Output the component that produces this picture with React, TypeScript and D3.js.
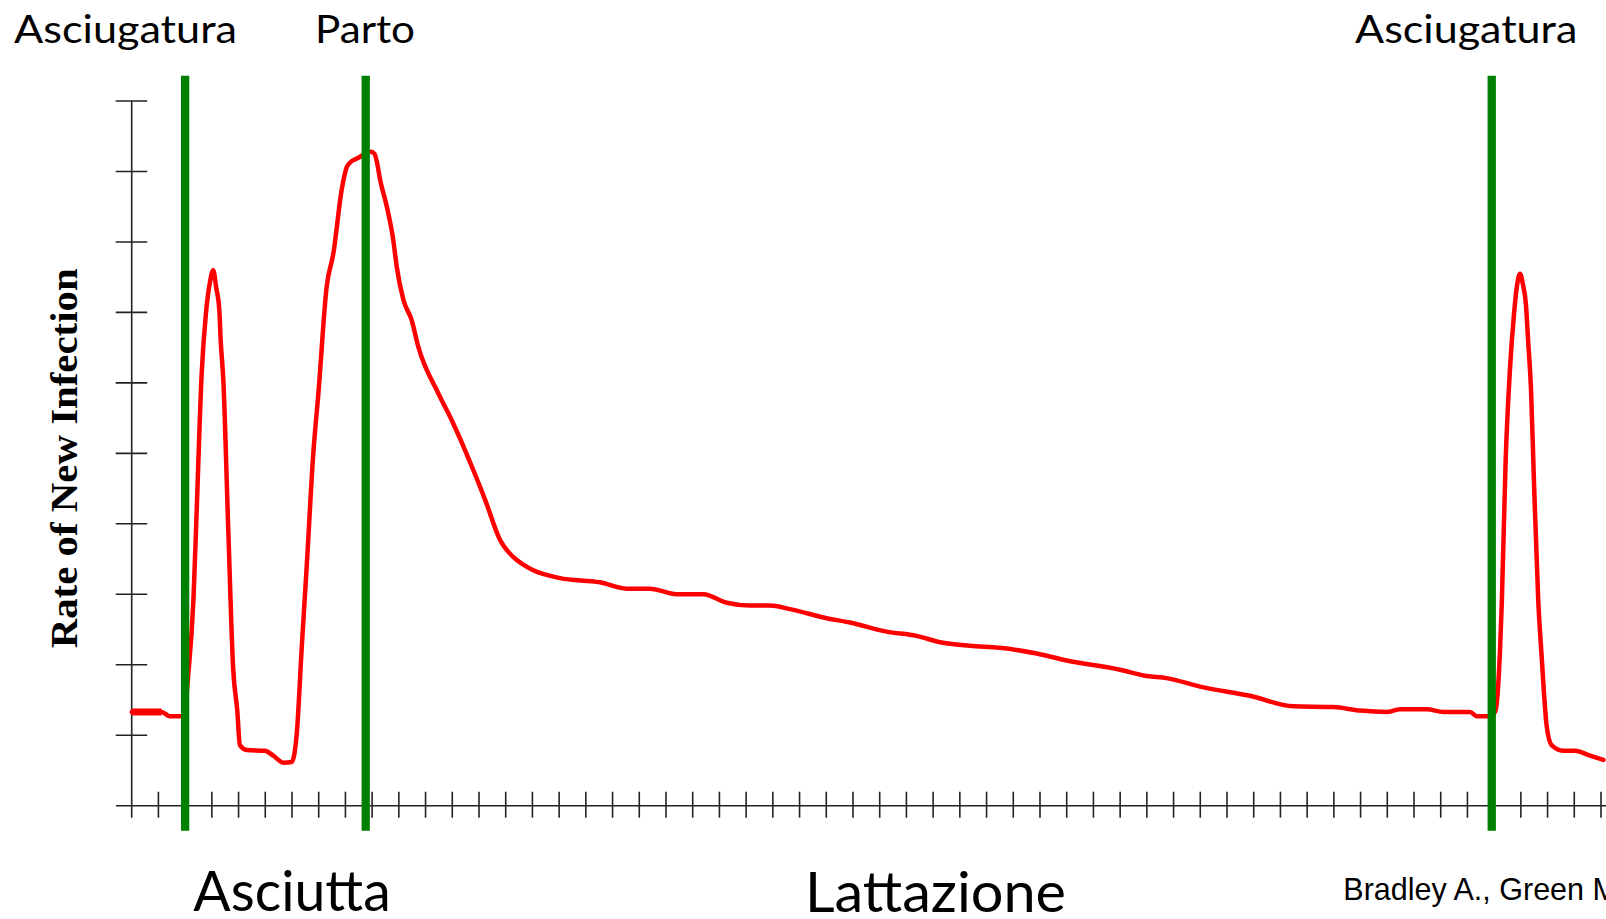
import React from "react";
import * as d3 from "d3";

// Weeks relative to the dry-off cycle (tick units along the x axis)
const weeks: number[] = [
  0, 1.12, 1.43, 1.85, 1.96, 2.11, 2.31, 2.42, 2.62, 2.78, 2.93, 3.05, 3.16, 3.28, 3.33, 3.43,
  3.61, 3.8, 3.95, 4.05, 4.31, 4.99, 5.3, 5.68, 5.99, 6.18, 6.36, 6.55, 6.8, 6.99, 7.3, 7.55,
  7.86, 8.05, 8.25, 8.47, 8.73, 8.96, 9.09, 9.18, 9.3, 9.55, 9.79, 9.92, 10.17, 10.48, 10.73,
  11.48, 11.98, 12.79, 13.23, 13.79, 14.28, 14.66, 15.03, 16.03, 17.53, 18.53, 19.4, 20.4,
  21.4, 22.27, 23.15, 23.89, 24.64, 26.02, 26.89, 28.26, 29.38, 30.26, 31.38, 32.5, 33.88,
  35.0, 36.99, 37.99, 38.74, 39.99, 41.86, 43.48, 44.98, 45.98, 46.98, 47.48, 48.48, 49.1,
  50.1, 50.35, 50.85, 51.03, 51.11, 51.22, 51.29, 51.43, 51.59, 51.74, 51.86, 51.97, 52.08,
  52.19, 52.27, 52.38, 52.49, 52.65, 52.78, 52.97, 53.15, 53.59, 54.03, 54.59, 55.09,
];

// Rate of new infection (y tick units)
const rates: number[] = [
  1.33, 1.33, 1.27, 1.27, 1.29, 1.83, 2.92, 4.05, 6.14, 6.99, 7.43, 7.6, 7.36, 7.03, 6.61, 6.04,
  3.98, 1.93, 1.36, 0.86, 0.79, 0.78, 0.71, 0.61, 0.62, 1.03, 2.21, 3.39, 5.01, 5.86, 7.37, 7.84,
  8.74, 9.06, 9.15, 9.19, 9.25, 9.28, 9.25, 9.13, 8.88, 8.5, 8.03, 7.65, 7.18, 6.89, 6.51,
  5.85, 5.47, 4.76, 4.34, 3.77, 3.53, 3.42, 3.34, 3.23, 3.17, 3.08, 3.08, 3.0,
  3.0, 2.88, 2.84, 2.84, 2.79, 2.66, 2.6, 2.47, 2.41, 2.32, 2.27, 2.24, 2.16,
  2.06, 1.93, 1.84, 1.81, 1.69, 1.56, 1.41, 1.4, 1.35, 1.33, 1.37, 1.37, 1.33,
  1.33, 1.27, 1.27, 1.33, 1.5, 2.21, 2.92, 4.89, 6.18, 6.96, 7.39, 7.55, 7.39,
  7.11, 6.61, 5.91, 4.61, 2.92, 2.11, 1.12, 0.86, 0.78, 0.78, 0.71, 0.65,
];

// Event markers (week positions)
const eventWeeks: number[] = [2.0, 8.76, 50.91];

const xTicks: number[] = d3.range(0, 56);
const yTicks: number[] = d3.range(1, 11);

const topLabels: string[] = ["Asciugatura", "Parto", "Asciugatura"];
const bottomLabels: string[] = ["Asciutta", "Lattazione"];
const yAxisTitle = "Rate of New Infection";
const credit = "Bradley A., Green M.";

export default function App() {
  const W = 1606;
  const H = 919;
  const x = d3.scaleLinear().domain([0, 55]).range([131.7, 1601]);
  const y = d3.scaleLinear().domain([0, 10]).range([805.7, 101]);

  const pts: [number, number][] = weeks.map((w, i) => [w, rates[i]]);
  const line = d3
    .line<[number, number]>()
    .x((d) => x(d[0]))
    .y((d) => y(d[1]))
    .curve(d3.curveMonotoneX);

  const axisColor = "#222";
  const labelFont = "Lato, 'Open Sans', sans-serif";

  return (
    <svg
      width={W}
      height={H}
      style={{ position: "absolute", left: 0, top: 0, display: "block", background: "#fff" }}
    >
      {/* axes */}
      <g stroke={axisColor} strokeWidth={1.6} fill="none">
        <line x1={x(0)} x2={x(0)} y1={y(10)} y2={y(0) + 12} />
        <line x1={116} x2={W} y1={y(0)} y2={y(0)} />
        {yTicks.map((t) => (
          <line key={"yt" + t} x1={x(0) - 16} x2={x(0) + 15.5} y1={y(t)} y2={y(t)} />
        ))}
        {xTicks.slice(1).map((t) => (
          <line key={"xt" + t} x1={x(t)} x2={x(t)} y1={y(0) - 14} y2={y(0) + 12} />
        ))}
      </g>

      {/* infection rate curve */}
      <path d={line(pts) || ""} fill="none" stroke="#ff0000" strokeWidth={4.5} strokeLinejoin="round" strokeLinecap="round" />
      <path d={line(pts.slice(0, 2)) || ""} fill="none" stroke="#ff0000" strokeWidth={7} />

      {/* event markers */}
      {eventWeeks.map((w, i) => (
        <line key={"ev" + i} x1={x(w)} x2={x(w)} y1={75.7} y2={830.7} stroke="#008000" strokeWidth={8.3} />
      ))}

      {/* top labels */}
      <g fontFamily={labelFont} fontSize={39} fill="#000">
        <text x={14} y={42.7} textLength={223} lengthAdjust="spacingAndGlyphs">{topLabels[0]}</text>
        <text x={315} y={42.7} textLength={100} lengthAdjust="spacingAndGlyphs">{topLabels[1]}</text>
        <text x={1355} y={42.7} textLength={222.3} lengthAdjust="spacingAndGlyphs">{topLabels[2]}</text>
      </g>

      {/* bottom labels */}
      <g fontFamily={labelFont} fontSize={56} fill="#000">
        <text x={193.3} y={911} textLength={197.4} lengthAdjust="spacingAndGlyphs">{bottomLabels[0]}</text>
        <text x={805} y={911.5} textLength={261} lengthAdjust="spacingAndGlyphs">{bottomLabels[1]}</text>
      </g>

      <text x={1343.3} y={900} fontFamily="'Liberation Sans', Arial, sans-serif" fontSize={30.5} fill="#000">
        {credit}
      </text>

      {/* y axis title */}
      <text
        transform={`translate(76.5, 648.3) rotate(-90)`}
        fontFamily="'Liberation Serif', 'Times New Roman', serif"
        fontWeight="bold"
        fontSize={38}
        fill="#000"
        textLength={380}
        lengthAdjust="spacingAndGlyphs"
      >
        {yAxisTitle}
      </text>
    </svg>
  );
}
